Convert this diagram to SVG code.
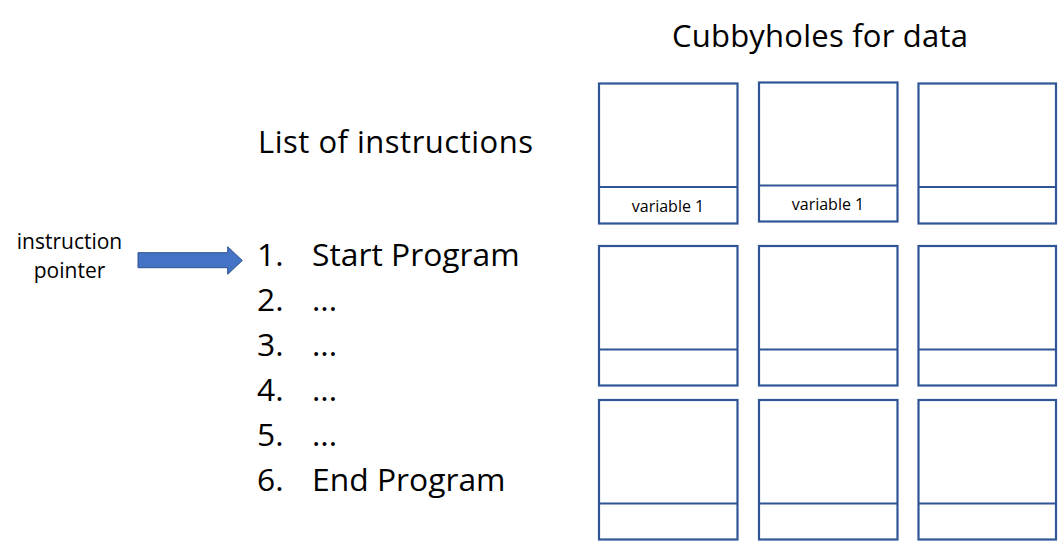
<svg xmlns="http://www.w3.org/2000/svg" width="1058" height="541" viewBox="0 0 1058 541">
<style>
text{font-family:"Open Sans","Liberation Sans",sans-serif;fill:#000}
.big{font-size:31px}
.item{font-size:31.8px}
.small{font-size:21px}
.lbl{font-size:16px;text-anchor:middle}
.box rect,.box line{fill:#fff;stroke:#2F5597;stroke-width:2.2}
</style>
<rect width="1058" height="541" fill="#fff"/>
<text class="big" x="672" y="47" textLength="296">Cubbyholes for data</text>
<text class="big" x="258" y="153" textLength="275">List of instructions</text>
<g id="list">
<text class="item" x="257" y="266">1.</text><text class="item" x="312" y="266">Start Program</text>
<text class="item" x="257" y="311">2.</text><text class="item" x="312" y="311">...</text>
<text class="item" x="257" y="356">3.</text><text class="item" x="312" y="356">...</text>
<text class="item" x="257" y="401">4.</text><text class="item" x="312" y="401">...</text>
<text class="item" x="257" y="446">5.</text><text class="item" x="312" y="446">...</text>
<text class="item" x="257" y="491">6.</text><text class="item" x="312" y="491">End Program</text>
</g>
<g id="pointer">
<text class="small" x="69.5" y="249" text-anchor="middle">instruction</text>
<text class="small" x="69.5" y="278" text-anchor="middle">pointer</text>
</g>
<g id="connectors">
<polygon points="138,252.7 227.7,252.7 227.7,246.7 242.3,260.5 227.7,274.3 227.7,267.7 138,267.7" fill="#4472C4" stroke="#2F528F" stroke-width="1"/>
</g>
<g id="cell-1-1" class="box"><rect x="599" y="83.5" width="138.5" height="140"/><line x1="599" y1="187" x2="737.5" y2="187"/><text class="lbl" x="668" y="212">variable 1</text></g>
<g id="cell-1-2" class="box"><rect x="759" y="82.5" width="138.5" height="139"/><line x1="759" y1="185.5" x2="897.5" y2="185.5"/><text class="lbl" x="828" y="210">variable 1</text></g>
<g id="cell-1-3" class="box"><rect x="918.5" y="83.5" width="137.5" height="140"/><line x1="918.5" y1="187" x2="1056" y2="187"/></g>
<g id="cell-2-1" class="box"><rect x="599" y="246" width="138.5" height="139.5"/><line x1="599" y1="349.5" x2="737.5" y2="349.5"/></g>
<g id="cell-2-2" class="box"><rect x="759" y="246" width="138.5" height="139.5"/><line x1="759" y1="349.5" x2="897.5" y2="349.5"/></g>
<g id="cell-2-3" class="box"><rect x="918.5" y="246" width="137.5" height="139.5"/><line x1="918.5" y1="349.5" x2="1056" y2="349.5"/></g>
<g id="cell-3-1" class="box"><rect x="599" y="400" width="138.5" height="139.5"/><line x1="599" y1="503.5" x2="737.5" y2="503.5"/></g>
<g id="cell-3-2" class="box"><rect x="759" y="400" width="138.5" height="139.5"/><line x1="759" y1="503.5" x2="897.5" y2="503.5"/></g>
<g id="cell-3-3" class="box"><rect x="918.5" y="400" width="137.5" height="139.5"/><line x1="918.5" y1="503.5" x2="1056" y2="503.5"/></g>
</svg>
